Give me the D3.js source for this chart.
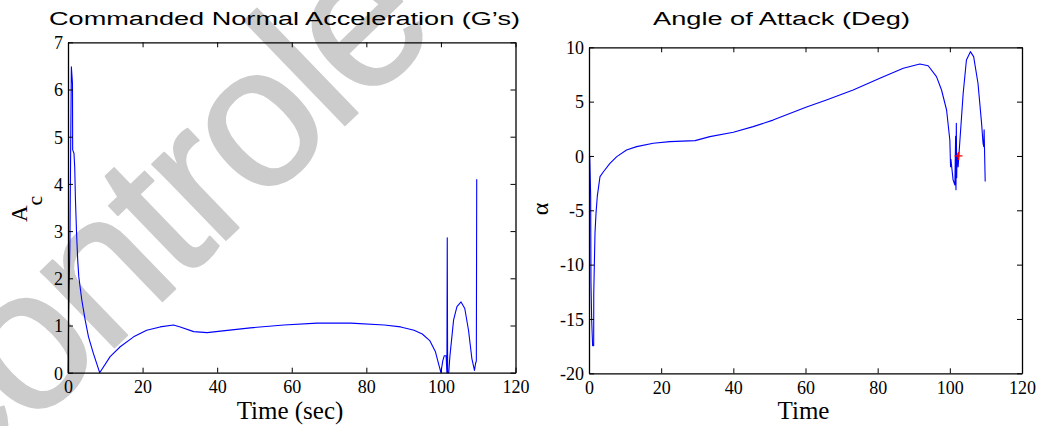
<!DOCTYPE html>
<html>
<head>
<meta charset="utf-8">
<script src="https://cdn.jsdelivr.net/npm/d3@7"></script>
<style>
html,body{margin:0;padding:0;background:#fff;}
svg{display:block;}
</style>
</head>
<body>
<svg id="chart" width="1040" height="426"></svg>
<script>
// ---- Data ----
const accelTime = [0, 0.2, 0.5, 0.9, 1.2, 1.25, 1.6, 1.8, 2.0, 2.3, 2.6, 2.9, 3.7, 4.6, 5.5, 6.8, 8.5, 11.3, 14, 17.6, 21.1, 24.7, 28.3, 30.1, 33.7, 37.3, 40.9, 48.9, 57.9, 66.8, 75.8, 84.8, 89.2, 92.8, 95, 97, 98.5, 99.5, 100, 100.5, 100.9, 101.4, 101.6, 101.7, 101.8, 102.1, 102.4, 103.4, 104.3, 105.4, 106.4, 107.4, 108.3, 109.0, 109.3, 109.5, 109.6];
const accelValues = [0, 1.33, 2.67, 6.48, 6.13, 4.72, 4.65, 4.36, 3.66, 2.95, 2.39, 2.03, 1.54, 1.12, 0.76, 0.41, 0.0, 0.34, 0.55, 0.76, 0.9, 0.97, 1.01, 0.97, 0.87, 0.85, 0.88, 0.95, 1.01, 1.05, 1.05, 1.01, 0.97, 0.9, 0.82, 0.68, 0.45, 0.15, 0.0, 0.25, 0.36, 0.36, 0.0, 2.86, 0.0, 0.0, 0.34, 1.12, 1.4, 1.5, 1.36, 0.9, 0.3, 0.05, 0.2, 0.25, 4.1];

const alphaTime = [0, 0.2, 0.46, 0.55, 0.74, 1.0, 1.3, 1.32, 1.66, 1.94, 2.3, 3.05, 4.0, 5.8, 7.7, 10.4, 13.2, 17.8, 22.4, 29.4, 33.5, 40, 45.5, 51, 60.3, 65.8, 73.2, 80.6, 87.1, 91.7, 94, 96.3, 97.7, 99.1, 100, 100.2, 100.3, 100.9, 101.4, 101.6, 101.7, 101.8, 101.9, 102.0, 102.3, 102.8, 103.7, 104.6, 105.7, 106.6, 107.8, 108.8, 109.2, 109.4, 109.5, 109.8];
const alphaValues = [0, 0, -3.7, -11.7, -15.1, -17.45, -17.45, -12.6, -7.1, -5.3, -3.7, -1.9, -1.45, -0.68, -0.06, 0.55, 0.86, 1.17, 1.32, 1.41, 1.78, 2.18, 2.7, 3.3, 4.5, 5.15, 6.07, 7.15, 8.07, 8.47, 8.3, 7.3, 6.07, 4.23, 1.47, -0.98, -0.3, -2.2, -2.67, 1.8, -3.1, 3.0, -2.0, 0.25, -1.0, 1.47, 5.77, 8.83, 9.6, 9.14, 6.69, 3.0, 1.17, 0.86, 2.4, -2.36];

const markerPoint = [102.4, 0];

const xTicks = [0, 20, 40, 60, 80, 100, 120];
const accelTicks = [0, 1, 2, 3, 4, 5, 6, 7];
const alphaTicks = [-20, -15, -10, -5, 0, 5, 10];

const leftTitle = "Commanded Normal Acceleration (G\u2019s)";
const rightTitle = "Angle of Attack (Deg)";
const leftXLabel = "Time (sec)";
const rightXLabel = "Time";
const watermark = "Controle";

// ---- Drawing ----
const svg = d3.select("#chart");
const serif = "'Liberation Serif','Times New Roman',serif";
const sans = "'Liberation Sans',Arial,sans-serif";

// watermark (behind), anchored on the centre of its second "o"
const wmSize = 200;
const wm = svg.append("text")
  .attr("font-family", sans)
  .attr("font-size", wmSize)
  .attr("letter-spacing", -6)
  .attr("fill", "#cccccc")
  .attr("stroke", "#cccccc")
  .attr("stroke-width", 2)
  .attr("stroke-linejoin", "round")
  .text(watermark);
(function placeWatermark() {
  const n = wm.node();
  const s = n.getStartPositionOfChar(5).x;
  const e = n.getEndPositionOfChar(5).x;
  const cx = (s + e) / 2 + 3;
  const cy = -0.27 * wmSize;
  wm.attr("transform", `translate(262,130) rotate(-44) translate(${-cx},${-cy})`);
})();

function panel(cfg) {
  const x = d3.scaleLinear().domain([0, 120]).range([cfg.left, cfg.right]);
  const y = d3.scaleLinear().domain(cfg.ydomain).range([cfg.bottom, cfg.top]);
  const g = svg.append("g");
  const tl = 5;

  const data = cfg.t.map((t, i) => [t, cfg.v[i]]);
  g.append("path")
    .datum(data)
    .attr("fill", "none")
    .attr("stroke", "#0000ff")
    .attr("stroke-width", 1.1)
    .attr("stroke-linejoin", "round")
    .attr("d", d3.line().x(d => x(d[0])).y(d => y(d[1])));

  const fmt = d3.format("d");
  const bottomAx = d3.axisBottom(x).tickValues(xTicks).tickSizeInner(-tl).tickSizeOuter(0).tickPadding(8).tickFormat(fmt);
  const topAx = d3.axisTop(x).tickValues(xTicks).tickSizeInner(-tl).tickSizeOuter(0).tickFormat("");
  const leftAx = d3.axisLeft(y).tickValues(cfg.yticks).tickSizeInner(-tl).tickSizeOuter(0).tickPadding(5).tickFormat(d => String(d));
  const rightAx = d3.axisRight(y).tickValues(cfg.yticks).tickSizeInner(-tl).tickSizeOuter(0).tickFormat("");

  const axB = g.append("g").attr("transform", `translate(0,${cfg.bottom})`).call(bottomAx);
  const axT = g.append("g").attr("transform", `translate(0,${cfg.top})`).call(topAx);
  const axL = g.append("g").attr("transform", `translate(${cfg.left},0)`).call(leftAx);
  const axR = g.append("g").attr("transform", `translate(${cfg.right},0)`).call(rightAx);
  [axB, axT, axL, axR].forEach(a => {
    a.selectAll("path.domain").attr("stroke", "#000").attr("stroke-width", 1.3);
    a.selectAll(".tick line").attr("stroke", "#000").attr("stroke-width", 1);
    a.selectAll("text").attr("font-family", serif).attr("font-size", 18).attr("fill", "#000");
  });
  axB.selectAll("text").attr("dy", "0.71em");
  axL.selectAll("text").attr("dy", "0.35em");

  svg.append("text")
    .attr("x", cfg.titleX).attr("y", 25)
    .attr("text-anchor", "middle")
    .attr("font-family", sans).attr("font-size", 18)
    .attr("textLength", cfg.titleLen).attr("lengthAdjust", "spacingAndGlyphs")
    .attr("fill", "#000")
    .text(cfg.title);

  svg.append("text")
    .attr("x", cfg.xlabelX).attr("y", 419)
    .attr("text-anchor", "middle")
    .attr("font-family", serif).attr("font-size", 25)
    .attr("fill", "#000")
    .text(cfg.xlabel);

  return {x, y, g};
}

const L = panel({
  left: 68, right: 515.5, top: 42.3, bottom: 372.7,
  ydomain: [0, 7], yticks: accelTicks, t: accelTime, v: accelValues,
  title: leftTitle, titleX: 284.5, titleLen: 471,
  xlabel: leftXLabel, xlabelX: 290
});

const R = panel({
  left: 589, right: 1022, top: 47.3, bottom: 373.3,
  ydomain: [-20, 10], yticks: alphaTicks, t: alphaTime, v: alphaValues,
  title: rightTitle, titleX: 781.5, titleLen: 257,
  xlabel: rightXLabel, xlabelX: 803.5
});

// red + marker
R.g.append("path")
  .attr("d", "M-4,0H4M0,-4V4")
  .attr("transform", `translate(${R.x(markerPoint[0])},${R.y(markerPoint[1])})`)
  .attr("stroke", "#ff0000").attr("stroke-width", 1.3).attr("fill", "none");

// y labels
const ylab = svg.append("text")
  .attr("transform", "translate(27,222) rotate(-90)")
  .attr("font-family", serif).attr("font-size", 23).attr("fill", "#000");
ylab.append("tspan").text("A");
ylab.append("tspan").attr("dy", 15).attr("font-size", 22).text("c");

svg.append("text")
  .attr("transform", "translate(548,209) rotate(-90)")
  .attr("text-anchor", "middle")
  .attr("font-family", serif).attr("font-size", 24).attr("fill", "#000")
  .text("\u03b1");
</script>
</body>
</html>
